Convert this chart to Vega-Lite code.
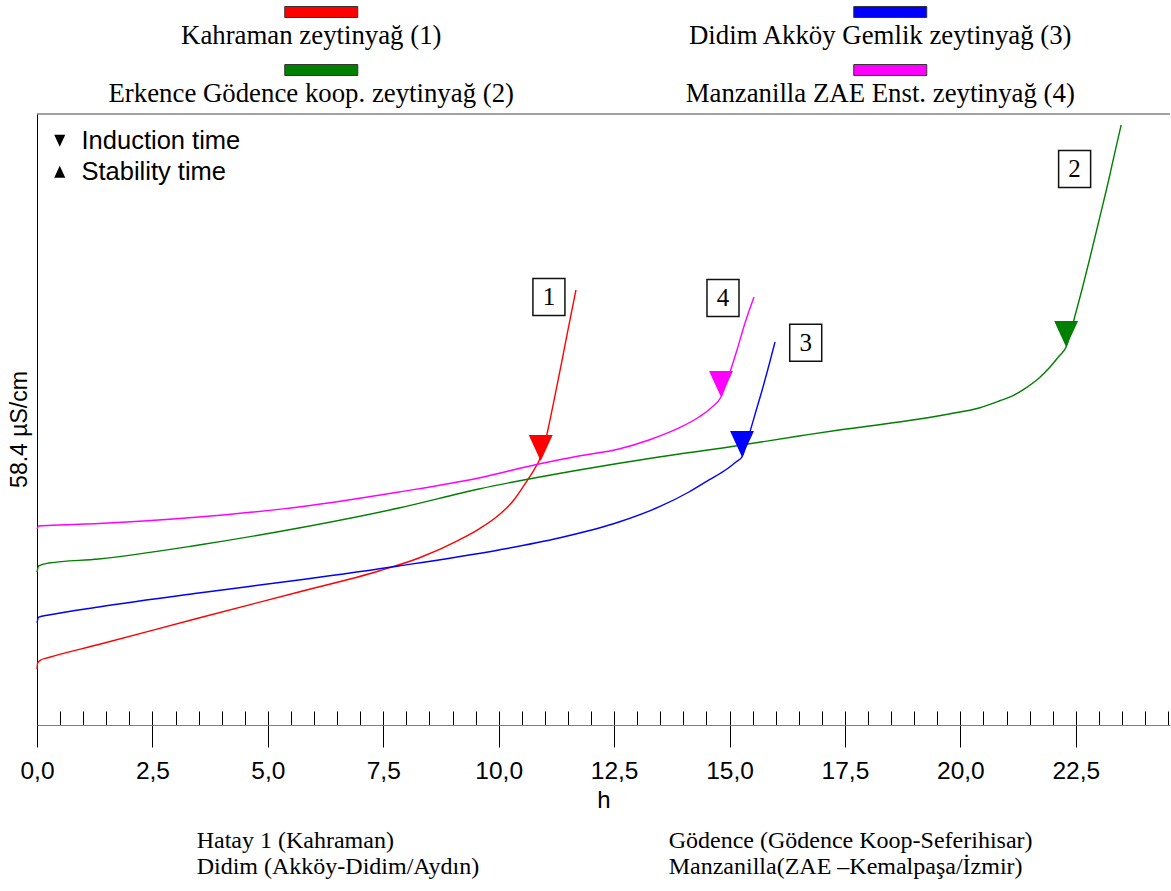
{
  "$schema": "https://vega.github.io/schema/vega-lite/v6.json",
  "padding": {"left": 8, "top": 0, "right": 0, "bottom": 0},
  "spacing": 1,
  "background": "white",
  "config": {"view": {"stroke": null}, "font": "Liberation Sans"},
  "resolve": {"scale": {"x": "independent", "y": "independent"}},
  "datasets": {
    "legend": [
      {"s": "1", "label": "Kahraman zeytinyağ (1)", "col": "A", "row": "r1"},
      {"s": "2", "label": "Erkence Gödence koop. zeytinyağ (2)", "col": "A", "row": "r2"},
      {"s": "3", "label": "Didim Akköy Gemlik zeytinyağ (3)", "col": "B", "row": "r1"},
      {"s": "4", "label": "Manzanilla ZAE Enst. zeytinyağ (4)", "col": "B", "row": "r2"}
    ],
    "curves": [
      {"s": "1", "h": 0.000, "v": 5.35},
      {"s": "1", "h": 0.015, "v": 5.93},
      {"s": "1", "h": 0.080, "v": 6.21},
      {"s": "1", "h": 0.254, "v": 6.45},
      {"s": "1", "h": 1.337, "v": 7.69},
      {"s": "1", "h": 3.504, "v": 10.23},
      {"s": "1", "h": 5.671, "v": 12.71},
      {"s": "1", "h": 7.404, "v": 14.72},
      {"s": "1", "h": 8.271, "v": 15.96},
      {"s": "1", "h": 9.137, "v": 17.68},
      {"s": "1", "h": 9.571, "v": 18.73},
      {"s": "1", "h": 10.004, "v": 20.07},
      {"s": "1", "h": 10.329, "v": 21.51},
      {"s": "1", "h": 10.611, "v": 23.32},
      {"s": "1", "h": 10.763, "v": 24.37},
      {"s": "1", "h": 10.871, "v": 25.23},
      {"s": "1", "h": 10.980, "v": 26.57},
      {"s": "1", "h": 11.088, "v": 28.67},
      {"s": "1", "h": 11.218, "v": 31.45},
      {"s": "1", "h": 11.369, "v": 34.79},
      {"s": "1", "h": 11.521, "v": 38.23},
      {"s": "1", "h": 11.673, "v": 41.58},

      {"s": "2", "h": 0.000, "v": 14.62},
      {"s": "2", "h": 0.037, "v": 15.20},
      {"s": "2", "h": 0.254, "v": 15.48},
      {"s": "2", "h": 1.337, "v": 15.87},
      {"s": "2", "h": 3.504, "v": 17.20},
      {"s": "2", "h": 5.671, "v": 18.83},
      {"s": "2", "h": 7.837, "v": 20.74},
      {"s": "2", "h": 9.571, "v": 22.56},
      {"s": "2", "h": 11.738, "v": 24.37},
      {"s": "2", "h": 13.471, "v": 25.62},
      {"s": "2", "h": 14.988, "v": 26.57},
      {"s": "2", "h": 16.505, "v": 27.62},
      {"s": "2", "h": 17.372, "v": 28.20},
      {"s": "2", "h": 18.672, "v": 28.96},
      {"s": "2", "h": 19.755, "v": 29.73},
      {"s": "2", "h": 20.405, "v": 30.30},
      {"s": "2", "h": 20.839, "v": 30.97},
      {"s": "2", "h": 21.163, "v": 31.54},
      {"s": "2", "h": 21.380, "v": 32.11},
      {"s": "2", "h": 21.705, "v": 33.17},
      {"s": "2", "h": 21.922, "v": 34.12},
      {"s": "2", "h": 22.139, "v": 35.27},
      {"s": "2", "h": 22.290, "v": 36.13},
      {"s": "2", "h": 22.464, "v": 38.81},
      {"s": "2", "h": 22.637, "v": 41.67},
      {"s": "2", "h": 22.789, "v": 44.35},
      {"s": "2", "h": 23.005, "v": 48.27},
      {"s": "2", "h": 23.222, "v": 52.28},
      {"s": "2", "h": 23.352, "v": 54.86},
      {"s": "2", "h": 23.482, "v": 57.35},

      {"s": "3", "h": 0.000, "v": 9.75},
      {"s": "3", "h": 0.037, "v": 10.32},
      {"s": "3", "h": 0.254, "v": 10.51},
      {"s": "3", "h": 1.337, "v": 11.28},
      {"s": "3", "h": 3.504, "v": 12.62},
      {"s": "3", "h": 5.671, "v": 13.86},
      {"s": "3", "h": 7.837, "v": 15.20},
      {"s": "3", "h": 10.004, "v": 16.73},
      {"s": "3", "h": 11.304, "v": 17.87},
      {"s": "3", "h": 12.604, "v": 19.40},
      {"s": "3", "h": 13.471, "v": 20.84},
      {"s": "3", "h": 14.121, "v": 22.27},
      {"s": "3", "h": 14.555, "v": 23.42},
      {"s": "3", "h": 14.945, "v": 24.47},
      {"s": "3", "h": 15.140, "v": 25.14},
      {"s": "3", "h": 15.270, "v": 25.62},
      {"s": "3", "h": 15.421, "v": 27.72},
      {"s": "3", "h": 15.573, "v": 30.01},
      {"s": "3", "h": 15.725, "v": 32.31},
      {"s": "3", "h": 15.855, "v": 34.41},
      {"s": "3", "h": 15.985, "v": 36.61},

      {"s": "4", "h": 0.000, "v": 18.73},
      {"s": "4", "h": 0.037, "v": 19.02},
      {"s": "4", "h": 0.470, "v": 19.12},
      {"s": "4", "h": 1.337, "v": 19.26},
      {"s": "4", "h": 3.504, "v": 19.88},
      {"s": "4", "h": 5.671, "v": 20.84},
      {"s": "4", "h": 7.837, "v": 22.27},
      {"s": "4", "h": 9.571, "v": 23.61},
      {"s": "4", "h": 10.871, "v": 24.95},
      {"s": "4", "h": 11.738, "v": 25.71},
      {"s": "4", "h": 12.604, "v": 26.38},
      {"s": "4", "h": 13.255, "v": 27.24},
      {"s": "4", "h": 13.905, "v": 28.39},
      {"s": "4", "h": 14.338, "v": 29.44},
      {"s": "4", "h": 14.598, "v": 30.30},
      {"s": "4", "h": 14.815, "v": 31.35},
      {"s": "4", "h": 14.988, "v": 33.45},
      {"s": "4", "h": 15.161, "v": 35.84},
      {"s": "4", "h": 15.335, "v": 38.42},
      {"s": "4", "h": 15.530, "v": 40.91}
    ],
    "markers": [
      {"s": "1", "type": "Induction time", "h": 10.91, "v": 25.23},
      {"s": "2", "type": "Induction time", "h": 22.29, "v": 36.13},
      {"s": "3", "type": "Induction time", "h": 15.27, "v": 25.62},
      {"s": "4", "type": "Induction time", "h": 14.815, "v": 31.35}
    ],
    "boxes": [
      {"label": "1", "h": 11.088, "v": 40.91},
      {"label": "4", "h": 14.858, "v": 40.81},
      {"label": "3", "h": 16.65, "v": 36.54},
      {"label": "2", "h": 22.474, "v": 53.14}
    ],
    "bottom": [
      {"col": "L", "line": "1", "text": "Hatay 1 (Kahraman)"},
      {"col": "L", "line": "2", "text": "Didim (Akköy-Didim/Aydın)"},
      {"col": "R", "line": "1", "text": "Gödence (Gödence Koop-Seferihisar)"},
      {"col": "R", "line": "2", "text": "Manzanilla(ZAE –Kemalpaşa/İzmir)"}
    ]
  },
  "vconcat": [
    {
      "width": 1133,
      "height": 112,
      "data": {"name": "legend"},
      "encoding": {
        "x": {"field": "col", "type": "nominal", "scale": {"type": "point", "domain": ["A", "B"], "padding": 0.4956, "align": 0.504}, "axis": null},
        "y": {"field": "row", "type": "nominal", "scale": {"type": "point", "domain": ["r1", "r2"], "padding": 0.4655}, "axis": null}
      },
      "layer": [
        {
          "mark": {"type": "point", "shape": "M-1,-0.15H1V0.15H-1Z", "size": 5329, "filled": true, "opacity": 1, "stroke": "#333333", "strokeWidth": 1, "yOffset": -15},
          "encoding": {
            "color": {"field": "s", "type": "nominal", "scale": {"domain": ["1", "2", "3", "4"], "range": ["#ff0000", "#008000", "#0000ff", "#ff00ff"]}, "legend": null}
          }
        },
        {
          "mark": {"type": "text", "font": "Liberation Serif", "fontSize": 26.8, "baseline": "alphabetic", "dy": 17, "dx": -10, "color": "black"},
          "encoding": {"text": {"field": "label"}}
        }
      ]
    },
    {
      "width": 1133,
      "height": 611,
      "layer": [
        {
          "data": {"name": "curves"},
          "mark": {"type": "line", "strokeWidth": 1.4, "interpolate": "monotone"},
          "encoding": {
            "x": {
              "field": "h", "type": "quantitative",
              "scale": {"domain": [0, 24.54], "nice": false, "zero": false},
              "axis": {
                "title": "h",
                "titleFont": "Liberation Sans", "titleFontSize": 24, "titleFontWeight": "normal", "titleColor": "black", "titlePadding": 6,
                "values": [0,0.5,1,1.5,2,2.5,3,3.5,4,4.5,5,5.5,6,6.5,7,7.5,8,8.5,9,9.5,10,10.5,11,11.5,12,12.5,13,13.5,14,14.5,15,15.5,16,16.5,17,17.5,18,18.5,19,19.5,20,20.5,21,21.5,22,22.5,23,23.5,24,24.5],
                "tickCount": 100,
                "labelExpr": "(round(datum.value*10) % 25 == 0) ? replace(format(datum.value, '.1f'), '.', ',') : ''",
                "labelFont": "Liberation Sans", "labelFontSize": 24.5, "labelColor": "black", "labelPadding": 12,
                "labelOverlap": false, "labelFlush": false, "labelBound": false,
                "tickSize": 22, "tickColor": "black", "tickWidth": 1,
                "tickOpacity": {"condition": {"test": "round(datum.value*10) % 25 == 0", "value": 1}, "value": 0},
                "domainColor": "#808080", "domainWidth": 1,
                "grid": true, "gridColor": "black", "gridDash": [0, 597, 14, 100], "gridOpacity": 1, "gridWidth": 1
              }
            },
            "y": {
              "field": "v", "type": "quantitative",
              "scale": {"domain": [0, 58.4], "nice": false},
              "axis": {
                "title": "58.4 µS/cm", "labels": false, "ticks": false, "grid": false,
                "domainColor": "black", "domainWidth": 1,
                "titleFont": "Liberation Sans", "titleFontSize": 23, "titleFontWeight": "normal", "titleColor": "black", "titlePadding": 6,
                "titleY": 315
              }
            },
            "color": {"field": "s", "type": "nominal", "scale": {"domain": ["1", "2", "3", "4"], "range": ["#ff0000", "#008000", "#0000ff", "#ff00ff"]}, "legend": null}
          }
        },
        {
          "data": {"name": "markers"},
          "mark": {"type": "point", "filled": true, "opacity": 1, "size": 676, "yOffset": -13, "strokeWidth": 0},
          "encoding": {
            "x": {"field": "h", "type": "quantitative"},
            "y": {"field": "v", "type": "quantitative"},
            "color": {"field": "s", "type": "nominal", "legend": null},
            "shape": {
              "field": "type", "type": "nominal",
              "scale": {"domain": ["Induction time", "Stability time"], "range": ["M0,1L-0.92,-1L0.92,-1Z", "M0,-1L-0.92,1L0.92,1Z"]},
              "legend": {
                "title": null, "orient": "none", "legendX": 10, "legendY": 128,
                "labelFont": "Liberation Sans", "labelFontSize": 25.5, "labelColor": "black",
                "symbolSize": 144, "symbolFillColor": "black", "symbolStrokeColor": "black", "symbolStrokeWidth": 0, "symbolOpacity": 1,
                "labelOffset": 9, "rowPadding": 4, "padding": 0
              }
            }
          }
        },
        {
          "data": {"name": "boxes"},
          "mark": {"type": "point", "shape": "M-0.865,-1H0.865V1H-0.865Z", "size": 1369, "filled": true, "fill": "white", "stroke": "#111111", "strokeWidth": 1.5, "opacity": 1},
          "encoding": {
            "x": {"field": "h", "type": "quantitative"},
            "y": {"field": "v", "type": "quantitative"}
          }
        },
        {
          "data": {"name": "boxes"},
          "mark": {"type": "text", "font": "Liberation Serif", "fontSize": 25, "baseline": "middle", "align": "center", "color": "black"},
          "encoding": {
            "x": {"field": "h", "type": "quantitative"},
            "y": {"field": "v", "type": "quantitative"},
            "text": {"field": "label"}
          }
        },
        {
          "data": {"values": [{}]},
          "mark": {"type": "rule", "color": "#444444", "strokeWidth": 1},
          "encoding": {"y": {"datum": 58.4}}
        }
      ]
    },
    {
      "width": 1133,
      "height": 80,
      "data": {"name": "bottom"},
      "mark": {"type": "text", "font": "Liberation Serif", "fontSize": 24, "align": "left", "baseline": "middle", "color": "black"},
      "encoding": {
        "x": {"field": "col", "type": "nominal", "scale": {"type": "point", "domain": ["L", "R"], "padding": 0.7002, "align": 0.2416}, "axis": null},
        "y": {"field": "line", "type": "nominal", "scale": {"type": "point", "domain": ["1", "2"], "padding": 1.239}, "axis": null},
        "text": {"field": "text"}
      }
    }
  ]
}
